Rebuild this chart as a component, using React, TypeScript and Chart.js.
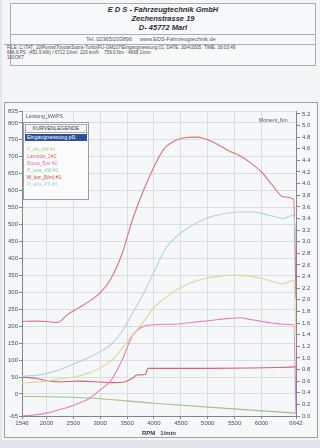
import React, { useEffect, useRef } from "react";
import { Chart, registerables } from "chart.js";
Chart.register(...registerables);

// ---- data (read from the dyno print) ----
const rpm = [1546, 1800, 2000, 2200, 2400, 2600, 2800, 3000, 3200, 3400, 3600, 3800, 4000, 4200, 4400, 4600, 4800, 5000, 5200, 5400, 5600, 5800, 6000, 6200, 6400, 6600, 6642];
const torqueNm = [214, 215, 214, 211, 235, 254, 274, 298, 340, 410, 514, 599, 670, 726, 748, 757, 758, 750, 735, 717, 703, 682, 655, 617, 582, 574, 280];
const powerPS = [52, 55, 60, 69, 81, 94, 109, 125, 146, 183, 238, 294, 360, 425, 462, 487, 505, 520, 529, 534, 537, 537, 533, 525, 518, 528, 440];
const powerKW = [32, 35, 38, 43, 47, 53, 63, 77, 97, 133, 174, 212, 255, 282, 305, 322, 334, 342, 347, 350, 350, 347, 341, 332, 325, 336, 170];
const boostBar = [0.0, 0.02, 0.05, 0.1, 0.15, 0.22, 0.3, 0.45, 0.61, 0.95, 1.38, 1.54, 1.57, 1.58, 1.58, 1.6, 1.62, 1.64, 1.66, 1.68, 1.69, 1.66, 1.63, 1.6, 1.58, 1.57, 0.05];

const lambdaRpm = [1546, 1800, 2000, 2200, 2600, 3000, 3200, 3420, 3600, 3680, 3840, 3890, 4200, 5000, 5800, 6300, 6642];
const lambdaVal = [0.67, 0.65, 0.61, 0.59, 0.6, 0.585, 0.575, 0.58, 0.65, 0.705, 0.72, 0.82, 0.82, 0.82, 0.825, 0.835, 0.845];

const lowRpm = [1546, 2800, 4000, 5200, 6642];
const lowVal = [0.34, 0.31, 0.22, 0.14, 0.05];

const xTicks = [1546, 2000, 2500, 3000, 3500, 4000, 4500, 5000, 5500, 6000, 6642];
const leftTicks = [-65, 0, 50, 100, 150, 200, 250, 300, 350, 400, 450, 500, 550, 600, 650, 700, 750, 800, 835];
const rightTicks = [0, 0.2, 0.4, 0.6, 0.8, 1.0, 1.2, 1.4, 1.6, 1.8, 2.0, 2.2, 2.4, 2.6, 2.8, 3.0, 3.2, 3.4, 3.6, 3.8, 4.0, 4.2, 4.4, 4.6, 4.8, 5.0, 5.2];

const legendItems = ["P_ab_kW #1", "Lambda_1#2", "Boost_Bar #2", "P_tota_kW #1", "M_kor_[Nm] #1", "P_abs_PS #1"];
const legendColors = ["#bccf8c", "#e06a6a", "#e57ab0", "#8fcf8f", "#c44a4a", "#9fd4e6"];

const FONT = '"Liberation Sans", Arial, sans-serif';
const pts = (xs: number[], ys: number[]) => xs.map((x, i) => ({ x, y: ys[i] }));

export default function App() {
  const ref = useRef<HTMLCanvasElement | null>(null);
  useEffect(() => {
    if (!ref.current) return;
    const tickFont = { size: 6, family: FONT };
    const txt = "#4a4f57";
    const grid = "#dadde2";
    const axis = "#80868e";
    const chart = new Chart(ref.current, {
      type: "line",
      data: {
        datasets: [
          { data: pts(rpm, powerKW), borderColor: "#d6dc98", yAxisID: "y" },
          { data: pts(rpm, powerPS), borderColor: "#a9d6e6", yAxisID: "y" },
          { data: pts(rpm, torqueNm), borderColor: "#d8737f", yAxisID: "y" },
          { data: pts(rpm, boostBar), borderColor: "#ea80b2", yAxisID: "y1" },
          { data: pts(lambdaRpm, lambdaVal), borderColor: "#dc5f6c", yAxisID: "y1" },
          { data: pts(lowRpm, lowVal), borderColor: "#9cc48c", yAxisID: "y1" },
        ],
      },
      options: {
        animation: false,
        responsive: false,
        maintainAspectRatio: false,
        layout: { padding: { top: 8, left: 0, right: 0, bottom: 0 } },
        plugins: { legend: { display: false }, tooltip: { enabled: false } },
        elements: {
          point: { radius: 0 },
          line: { borderWidth: 1.1, cubicInterpolationMode: "monotone" },
        },
        scales: {
          x: {
            type: "linear",
            min: 1546,
            max: 6642,
            afterBuildTicks: (s: any) => {
              s.ticks = xTicks.map((v) => ({ value: v }));
            },
            afterFit: (s: any) => {
              s.height = 21;
            },
            ticks: {
              autoSkip: false,
              maxRotation: 0,
              font: tickFont,
              color: txt,
              padding: 1,
              callback: (v: any) => String(v),
            },
            grid: { color: grid, tickLength: 3, tickColor: axis },
            border: { color: axis },
            title: {
              display: true,
              text: "RPM   1/min",
              font: { size: 6, weight: "bold", family: FONT },
              color: "#3a3f46",
              padding: 0,
            },
          },
          y: {
            position: "left",
            min: -65,
            max: 835,
            afterBuildTicks: (s: any) => {
              s.ticks = leftTicks.map((v) => ({ value: v }));
            },
            afterFit: (s: any) => {
              s.width = 17;
            },
            ticks: { font: tickFont, color: txt, padding: 1, callback: (v: any) => String(v) },
            grid: { color: grid, tickLength: 3, tickColor: axis },
            border: { color: axis },
          },
          y1: {
            position: "right",
            min: 0,
            max: 5.25,
            afterBuildTicks: (s: any) => {
              s.ticks = rightTicks.map((v) => ({ value: v }));
            },
            afterFit: (s: any) => {
              s.width = 21;
            },
            ticks: { font: tickFont, color: txt, padding: 2, callback: (v: any) => Number(v).toFixed(1) },
            grid: { drawOnChartArea: false, tickLength: 4, tickColor: axis },
            border: { color: axis },
          },
        },
      } as any,
    });
    return () => chart.destroy();
  }, []);

  const abs = (l: number, t: number, extra: React.CSSProperties = {}): React.CSSProperties => ({
    position: "absolute",
    left: l,
    top: t,
    whiteSpace: "nowrap",
    fontFamily: FONT,
    ...extra,
  });

  return (
    <div style={{ position: "absolute", left: 0, top: 0, width: 320, height: 448, overflow: "hidden", background: "#e3e7ec", fontFamily: FONT }}>
      {/* paper */}
      <div style={{ position: "absolute", left: 2, top: 0, width: 318, height: 440, background: "#f4f5f7" }} />
      {/* header box */}
      <div style={{ position: "absolute", left: 10, top: 3, width: 304, height: 61, border: "1px solid #a9aeb5", background: "#f7f8f9" }} />
      <div style={{ position: "absolute", left: 10, top: 34, width: 305, height: 0, borderTop: "1px solid #a9aeb5" }} />
      <div style={{ position: "absolute", left: 4, top: 44, width: 311, height: 0, borderTop: "1px solid #a9aeb5" }} />
      <div style={abs(0, 5, { width: 326, textAlign: "center", fontSize: 7.5, fontWeight: "bold", fontStyle: "italic", color: "#2b2d31", lineHeight: "9px" })}>
        E D S - Fahrzeugtechnik GmbH
        <br />
        Zechenstrasse 19
        <br />
        D- 45772 Marl
      </div>
      <div style={abs(86, 36, { fontSize: 5.6, color: "#555a61", lineHeight: "7px" })}>
        Tel. 02365/203896&nbsp;&nbsp;&nbsp;&nbsp;&nbsp;www.EDS-Fahrzeugtechnik.de
      </div>
      <div style={abs(7, 45, { fontSize: 4.6, color: "#474b52", lineHeight: "5.2px" })}>
        FILE: C:\TAT_10\Pontst\Toyota\Supra-Turbo\FU-GM107\Eingangmessung 01&nbsp;&nbsp;DATE: 30/4/2005&nbsp;&nbsp;TIME: 16:03:49
        <br />
        646.6 PS&nbsp;&nbsp;(451.9 kW) / 6712 1/min&nbsp;&nbsp;220 km/h&nbsp;&nbsp;&nbsp;&nbsp;759.0 Nm - 4668 1/min
        <br />
        100OKT
      </div>

      {/* chart frame */}
      <div style={{ position: "absolute", left: 4, top: 102, width: 312, height: 334, border: "1px solid #9aa0a8", background: "#f6f7f9" }} />
      <canvas ref={ref} width={312} height={334} style={{ position: "absolute", left: 5, top: 103, width: 312, height: 334 }} />

      {/* axis captions */}
      <div style={abs(26, 113, { fontSize: 5, color: "#50555c" })}>Leistung_kW/PS</div>
      <div style={abs(259, 117, { fontSize: 5, color: "#50555c" })}>Moment_Nm</div>

      {/* legend panel */}
      <div style={{ position: "absolute", left: 23, top: 122, width: 64, height: 76, border: "1px solid #9aa0a8", background: "#fbfbfc" }}>
        <div style={{ margin: "1px 1px 0 1px", height: 7, border: "1px solid #a3a8ae", fontSize: 5.2, lineHeight: "7px", textAlign: "center", color: "#3c4047", background: "#f3f4f6" }}>
          KURVENLEGENDE
        </div>
        <div style={{ margin: "1px 1px 0 1px", height: 7, background: "#2e4f98", color: "#ffffff", fontSize: 5.2, lineHeight: "7px", paddingLeft: 2 }}>
          Eingangmessung pf1
        </div>
        <div style={{ height: 5 }} />
        {legendItems.map((t, i) => (
          <div key={t} style={{ paddingLeft: 3, fontSize: 5, lineHeight: "7px", color: legendColors[i] }}>
            {t}
          </div>
        ))}
      </div>
    </div>
  );
}
